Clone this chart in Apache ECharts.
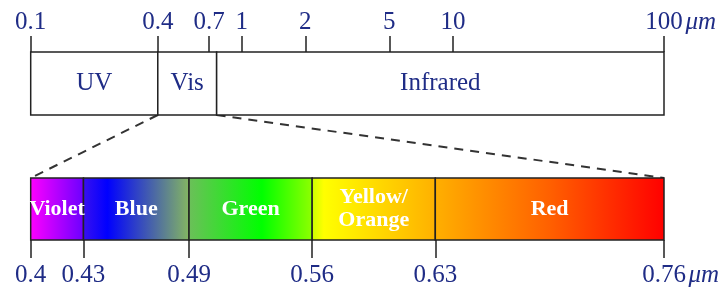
<!DOCTYPE html>
<html>
<head>
<meta charset="utf-8">
<script src="https://cdn.jsdelivr.net/npm/echarts@6/dist/echarts.min.js"></script>
<style>
html,body{margin:0;padding:0;background:#fff;}
#chart{width:724px;height:288px;}
</style>
</head>
<body>
<div id="chart"></div>
<script>
// ---- data ----
const topTicks = [0.1, 0.4, 0.7, 1, 2, 5, 10, 100];
const regionNames = ['UV', 'Vis', 'Infrared'];
const regionBounds = [0.1, 0.4, 0.76, 100];
const bandNames = ['Violet', 'Blue', 'Green', 'Yellow/\nOrange', 'Red'];
const bandBounds = [0.4, 0.43, 0.49, 0.56, 0.63, 0.76];
const unitLabel = 'μm';

// ---- styles ----
const bandGradients = [
  [[0, '#ff00ff'], [1, '#6a00ff']],
  [[0, '#3a10f0'], [0.23, '#0000ff'], [1, '#85b860']],
  [[0, '#6cbf5a'], [0.59, '#00ff00'], [1, '#90ff00']],
  [[0, '#c8ff00'], [0.1, '#ffff00'], [1, '#ffb000']],
  [[0, '#ffb000'], [0.5, '#ff6000'], [1, '#ff0000']]
];
const FONT = 'Liberation Serif';
const NAVY = '#1f2c86';
const LINE = '#222';

// top axis works on log10 of wavelength (logarithmic scale)
const lg = v => Math.log10(v);
const unlg = v => Number(Math.pow(10, v).toPrecision(6));

const regionData = regionNames.map((n, i) => [lg(regionBounds[i]), lg(regionBounds[i + 1]), i]);
const bandData = bandNames.map((n, i) => [bandBounds[i], bandBounds[i + 1], i]);
const topTickPos = topTicks.map(lg);

const chart = echarts.init(document.getElementById('chart'));

function unitFmt(last, conv) {
  return function (v) {
    const val = conv ? conv(v) : v;
    if (Math.abs(val - last) < 1e-6) return '{p|}' + val + '{u|' + unitLabel + '}';
    return String(val);
  };
}
const richU = {
  p: { width: 36 },
  u: { fontFamily: FONT, fontStyle: 'italic', fontSize: 25, color: NAVY, width: 36 }
};

const option = {
  animation: false,
  grid: [
    { left: 30.7, right: 60, top: 52, height: 63 },
    { left: 30.7, right: 60, top: 178, height: 63 }
  ],
  xAxis: [
    {
      type: 'value', gridIndex: 0, position: 'top', min: lg(0.1), max: lg(100), z: 10,
      axisLine: { show: false, onZero: false },
      axisTick: { show: true, inside: false, length: 16, customValues: topTickPos,
        lineStyle: { color: LINE, width: 1.5 } },
      axisLabel: { show: true, customValues: topTickPos, margin: 17,
        fontFamily: FONT, fontSize: 25, color: NAVY,
        formatter: unitFmt(100, unlg), rich: richU },
      splitLine: { show: false }
    },
    {
      type: 'value', gridIndex: 1, position: 'bottom', min: 0.4, max: 0.76, z: 10,
      axisLine: { show: false, onZero: false },
      axisTick: { show: true, inside: false, length: 18, customValues: bandBounds,
        lineStyle: { color: LINE, width: 1.5 } },
      axisLabel: { show: true, customValues: bandBounds, margin: 23,
        fontFamily: FONT, fontSize: 25, color: NAVY,
        formatter: unitFmt(0.76), rich: richU },
      splitLine: { show: false }
    }
  ],
  yAxis: [
    { type: 'value', gridIndex: 0, min: 0, max: 1, show: false },
    { type: 'value', gridIndex: 1, min: 0, max: 1, show: false }
  ],
  series: [
    {
      type: 'custom', xAxisIndex: 0, yAxisIndex: 0,
      data: regionData,
      encode: { x: [0, 1] },
      renderItem: function (params, api) {
        const a = api.coord([api.value(0), 0]);
        const b = api.coord([api.value(1), 1]);
        return {
          type: 'rect',
          shape: { x: a[0], y: b[1], width: b[0] - a[0], height: a[1] - b[1] },
          style: { fill: '#fff', stroke: LINE, lineWidth: 1.5 },
          textContent: { style: { text: regionNames[api.value(2)], fontFamily: FONT,
            fontSize: 25, fill: NAVY } },
          textConfig: { position: 'inside' }
        };
      }
    },
    {
      type: 'custom', xAxisIndex: 1, yAxisIndex: 1,
      data: bandData,
      encode: { x: [0, 1] },
      renderItem: function (params, api) {
        const a = api.coord([api.value(0), 0]);
        const b = api.coord([api.value(1), 1]);
        const i = api.value(2);
        return {
          type: 'rect',
          shape: { x: a[0], y: b[1], width: b[0] - a[0], height: a[1] - b[1] },
          style: {
            fill: new echarts.graphic.LinearGradient(0, 0, 1, 0,
              bandGradients[i].map(s => ({ offset: s[0], color: s[1] }))),
            stroke: LINE, lineWidth: 1.5
          },
          textContent: { style: { text: bandNames[i], fontFamily: FONT, fontWeight: 'bold',
            fontSize: 22, lineHeight: 23, fill: '#fff', align: 'center' } },
          textConfig: { position: 'inside' }
        };
      }
    }
  ]
};
chart.setOption(option);

// dashed zoom lines, from Vis box bottom corners to spectrum top corners
const p1 = chart.convertToPixel({ xAxisIndex: 0, yAxisIndex: 0 }, [lg(regionBounds[1]), 0]);
const p2 = chart.convertToPixel({ xAxisIndex: 0, yAxisIndex: 0 }, [lg(regionBounds[2]), 0]);
const q1 = chart.convertToPixel({ xAxisIndex: 1, yAxisIndex: 1 }, [bandBounds[0], 1]);
const q2 = chart.convertToPixel({ xAxisIndex: 1, yAxisIndex: 1 }, [bandBounds[bandBounds.length - 1], 1]);
const dash = { stroke: '#333', lineWidth: 2, lineDash: [9, 7] };
chart.setOption({
  graphic: [
    { type: 'line', shape: { x1: p1[0], y1: p1[1], x2: q1[0], y2: q1[1] }, style: dash, z: 0 },
    { type: 'line', shape: { x1: p2[0], y1: p2[1], x2: q2[0], y2: q2[1] }, style: dash, z: 0 }
  ]
});
</script>
</body>
</html>
